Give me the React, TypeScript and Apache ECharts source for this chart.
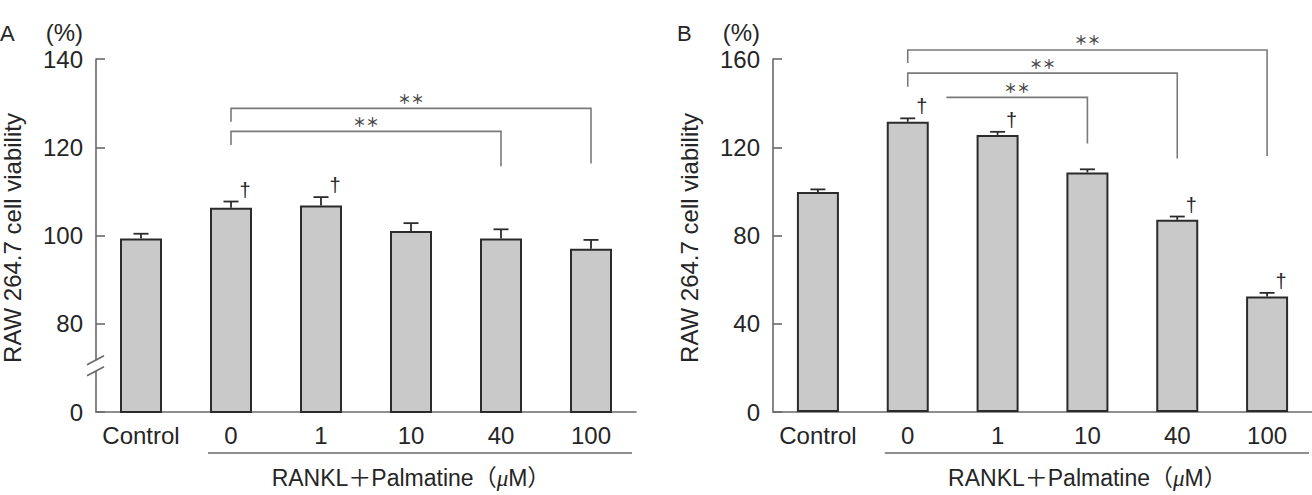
import React, { useEffect, useRef } from 'react';
import * as echarts from 'echarts';

// ---------- data ----------
const categories = ['Control', '0', '1', '10', '40', '100'];

// Panel A (axis broken between 0 and 80; the axis floor value 60 is labelled "0")
const viabilityA = [99.3, 106.3, 106.8, 101.0, 99.3, 97.0];
const errorA = [1.1, 1.4, 1.9, 1.8, 2.1, 2.0];
const daggerA = [0, 1, 1, 0, 0, 0];
const yFloorA = 60;
const yMaxA = 140;
const yStepA = 20;
const yFloorLabelA = '0';

// Panel B
const viabilityB = [99.7, 131.6, 125.6, 108.6, 87.1, 52.4];
const errorB = [1.2, 1.5, 1.4, 1.4, 1.5, 1.6];
const daggerB = [0, 1, 1, 0, 1, 1];
const yMaxB = 160;
const yStepB = 40;

// significance brackets: [fromCategory, toCategory, level, fromEndLevel, toEndLevel]
const bracketsA = [
  [1, 5, 128.8, 125.8, 116.3],
  [1, 4, 123.6, 120.5, 115.7],
];
const bracketsB = [
  [1, 5, 164.1, 158.2, 116.0],
  [1, 4, 153.6, 147.4, 114.9],
  [1.43, 3, 142.6, 142.6, 121.7],
];

const panelLetters = ['A', 'B'];
const unitLabel = '(%)';
const yTitle = 'RAW 264.7 cell viability';
const groupLabel = '{n|RANKL＋Palmatine（}{m|μ}{n|M）}';
const sigMark = '＊＊';
const daggerMark = '†';

// ---------- styles ----------
const FONT = "'Liberation Sans', Arial, 'Noto Sans CJK JP', sans-serif";
const CJK = "'Noto Sans CJK JP', 'Liberation Sans', sans-serif";
const TEXT = '#252525';
const STAR = '#4a4a4a';
const AXIS = '#6a6a6a';
const BAR_FILL = '#c9c9c9';
const BAR_EDGE = '#2b2b2b';
const BRACKET = '#7a7a7a';

function errorSeries(idx: number, vals: number[], errs: number[], dags: number[]) {
  return {
    type: 'custom',
    xAxisIndex: idx,
    yAxisIndex: idx,
    z: 5,
    silent: true,
    itemStyle: { color: TEXT },
    data: vals.map((v, k) => [k, v, errs[k], dags[k]]),
    encode: { x: 0, y: 1 },
    renderItem: (params: any, api: any) => {
      const k = api.value(0);
      const v = api.value(1);
      const e = api.value(2);
      const d = api.value(3);
      const p0 = api.coord([k, v]);
      const p1 = api.coord([k, v + e]);
      const children: any[] = [
        { type: 'line', shape: { x1: p0[0], y1: p0[1], x2: p1[0], y2: p1[1] }, style: { stroke: BAR_EDGE, lineWidth: 1.8 } },
        { type: 'line', shape: { x1: p1[0] - 7.5, y1: p1[1], x2: p1[0] + 7.5, y2: p1[1] }, style: { stroke: BAR_EDGE, lineWidth: 1.8 } },
      ];
      if (d) {
        children.push({
          type: 'text',
          x: p1[0] + 14,
          y: p1[1] - 12,
          style: { text: daggerMark, fontSize: 20, fill: TEXT, align: 'center', verticalAlign: 'middle', fontFamily: FONT },
        });
      }
      return { type: 'group', children };
    },
  };
}

function bracketSeries(idx: number, brackets: number[][]) {
  return {
    type: 'custom',
    xAxisIndex: idx,
    yAxisIndex: idx,
    z: 6,
    silent: true,
    itemStyle: { color: STAR },
    data: brackets.map((b) => [0, b[2], b[0], b[1], b[3], b[4]]),
    encode: { x: 0, y: 1 },
    renderItem: (params: any, api: any) => {
      const lvl = api.value(1);
      const from = api.value(2);
      const to = api.value(3);
      const fe = api.value(4);
      const te = api.value(5);
      const origin = api.coord([0, lvl]);
      const band = api.size([1, 0])[0];
      const xf = origin[0] + from * band;
      const xt = origin[0] + to * band;
      const yl = origin[1];
      const yfe = api.coord([0, fe])[1];
      const yte = api.coord([0, te])[1];
      const cx = (xf + xt) / 2;
      return {
        type: 'group',
        children: [
          {
            type: 'polyline',
            shape: { points: [[xf, yfe], [xf, yl], [xt, yl], [xt, yte]] },
            style: { stroke: BRACKET, lineWidth: 1.6, fill: 'none' },
          },
          {
            type: 'text', x: cx, y: yl - 10,
            style: { text: sigMark, fontSize: 13, fill: STAR, align: 'center', verticalAlign: 'middle', fontFamily: CJK, fontWeight: 'bold', lineHeight: 13 },
          },
        ],
      };
    },
  };
}

function barSeries(idx: number, vals: number[]) {
  return {
    type: 'bar',
    xAxisIndex: idx,
    yAxisIndex: idx,
    data: vals,
    barWidth: 42,
    clip: true,
    silent: true,
    itemStyle: { color: BAR_FILL, borderColor: BAR_EDGE, borderWidth: 2 },
  };
}

const gridTop = 59;
const gridHeight = 353;
const gridLefts = [96, 773];
const gridWidth = 540;

export default function App() {
  const ref = useRef<HTMLDivElement>(null);

  useEffect(() => {
    document.body.style.margin = '0';
    if (!ref.current) return;
    const chart = echarts.init(ref.current, undefined, { renderer: 'svg' });

    const xAxisCommon = {
      type: 'category',
      data: categories,
      axisLine: { lineStyle: { color: AXIS, width: 1.6 } },
      axisTick: { show: false },
      axisLabel: { fontSize: 24, color: TEXT, margin: 11, fontFamily: FONT, interval: 0 },
      splitLine: { show: false },
    };
    const yAxisCommon = {
      type: 'value',
      axisLine: { show: true, lineStyle: { color: AXIS, width: 1.6 } },
      axisTick: { show: true, inside: true, length: 9, lineStyle: { color: AXIS, width: 1.6 } },
      splitLine: { show: false },
    };

    const option: any = {
      animation: false,
      backgroundColor: '#ffffff',
      grid: gridLefts.map((left) => ({ left, top: gridTop, width: gridWidth, height: gridHeight })),
      xAxis: [
        { ...xAxisCommon, gridIndex: 0 },
        { ...xAxisCommon, gridIndex: 1 },
      ],
      yAxis: [
        {
          ...yAxisCommon,
          gridIndex: 0,
          min: yFloorA,
          max: yMaxA,
          interval: yStepA,
          axisLabel: {
            fontSize: 24,
            color: TEXT,
            margin: 13,
            fontFamily: FONT,
            formatter: (v: number) => (v === yFloorA ? yFloorLabelA : String(v)),
          },
        },
        {
          ...yAxisCommon,
          gridIndex: 1,
          min: 0,
          max: yMaxB,
          interval: yStepB,
          axisLabel: { fontSize: 24, color: TEXT, margin: 13, fontFamily: FONT },
        },
      ],
      series: [
        barSeries(0, viabilityA),
        barSeries(1, viabilityB),
        errorSeries(0, viabilityA, errorA, daggerA),
        errorSeries(1, viabilityB, errorB, daggerB),
        bracketSeries(0, bracketsA),
        bracketSeries(1, bracketsB),
      ],
    };
    chart.setOption(option);

    // annotations placed relative to the axes
    const graphics: any[] = [];
    [0, 1].forEach((i) => {
      const axisX = gridLefts[i];
      const c1 = chart.convertToPixel({ xAxisIndex: i } as any, 1) as number;
      const c5 = chart.convertToPixel({ xAxisIndex: i } as any, 5) as number;
      const gridRight = axisX + gridWidth;
      graphics.push({
        type: 'text', x: axisX - 96, y: 33,
        style: { text: panelLetters[i], fontSize: 22, fill: TEXT, align: 'left', verticalAlign: 'middle', fontFamily: FONT, lineHeight: 22 },
      });
      graphics.push({
        type: 'text', x: axisX - 13, y: 32,
        style: { text: unitLabel, fontSize: 24, fill: TEXT, align: 'right', verticalAlign: 'middle', fontFamily: FONT, lineHeight: 22 },
      });
      graphics.push({
        type: 'text', x: axisX - 84, y: 238, rotation: Math.PI / 2,
        style: { text: yTitle, fontSize: 24, fill: TEXT, align: 'center', verticalAlign: 'middle', fontFamily: FONT },
      });
      graphics.push({
        type: 'line',
        shape: { x1: c1 - 23, y1: 453, x2: Math.min(gridRight - 4, 1312), y2: 453 },
        style: { stroke: AXIS, lineWidth: 1.6 },
      });
      graphics.push({
        type: 'text', x: (c1 + c5) / 2, y: 478,
        style: {
          text: groupLabel, align: 'center', verticalAlign: 'middle',
          rich: {
            n: { fontSize: 23, fill: TEXT, fontFamily: FONT },
            m: { fontSize: 23, fill: TEXT, fontFamily: "'Liberation Serif', serif", fontStyle: 'italic' },
          },
        },
      });
    });
    // axis break for panel A
    const yb = chart.convertToPixel({ yAxisIndex: 0 } as any, 70.5) as number;
    const ax = gridLefts[0];
    graphics.push({ type: 'rect', shape: { x: ax - 3, y: yb - 5.5, width: 6, height: 11 }, style: { fill: '#ffffff' }, z: 100 });
    [-5.5, 5.5].forEach((d) => {
      graphics.push({
        type: 'line', z: 101,
        shape: { x1: ax - 9, y1: yb + d + 4.5, x2: ax + 8, y2: yb + d - 4.5 },
        style: { stroke: AXIS, lineWidth: 1.6 },
      });
    });
    chart.setOption({ graphic: graphics });

    return () => chart.dispose();
  }, []);

  return <div ref={ref} style={{ width: 1312, height: 495 }} />;
}
